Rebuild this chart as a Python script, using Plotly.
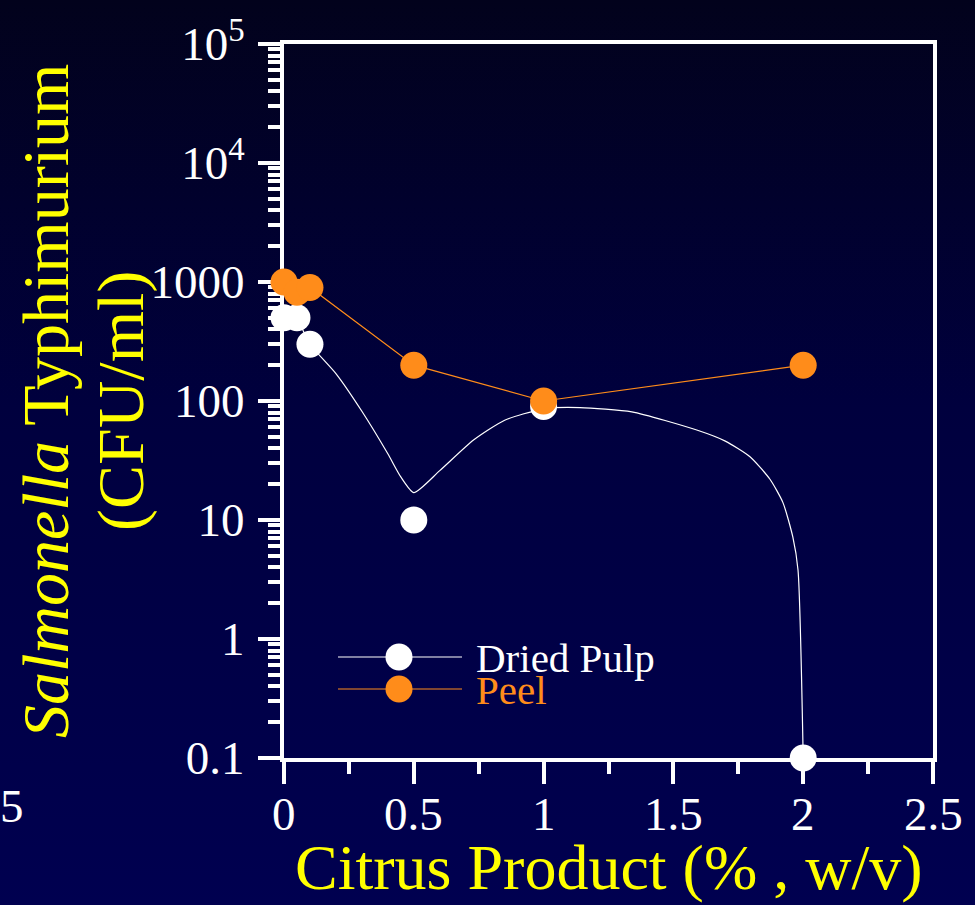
import base64
import plotly.graph_objects as go

# ---- data ----
pulp_x = [0, 0.05, 0.1, 0.5, 1, 2]
pulp_y = [500, 500, 300, 10, 90, 0.1]

peel_x = [0, 0.05, 0.1, 0.5, 1, 2]
peel_y = [1000, 820, 900, 200, 100, 200]

# smoothed curve drawn through the dried-pulp data
pulp_fit_x = [0, 0.05, 0.1, 0.2, 0.3, 0.4, 0.45, 0.5, 0.6, 0.73, 0.85, 1.0, 1.14, 1.34, 1.59, 1.70, 1.795, 1.872, 1.922, 1.96, 1.98, 2.0]
pulp_fit_y = [500, 480, 300, 170, 82, 36, 23, 17, 26, 47, 69, 86, 88, 81, 57, 46, 34, 22, 14, 7.2, 3.8, 0.1]

x_tickvals = [0, 0.5, 1, 1.5, 2, 2.5]
x_ticktext = ["0", "0.5", "1", "1.5", "2", "2.5"]
y_tickvals = [0.1, 1, 10, 100, 1000, 1e4, 1e5]
y_ticktext = ["0.1", "1", "10", "100", "1000", "10<sup>4</sup>", "10<sup>5</sup>"]

series_names = ["Dried Pulp", "Peel"]
x_title = "Citrus Product (% , w/v)"
y_title_lines = ["<i>Salmonella</i> Typhimurium", "(CFU/ml)"]

# ---- styling ----
W, H = 975, 905
L, R, T, B = 284, 42, 44, 147
PW, PH = W - L - R, H - T - B
WHITE = "#FFFFFF"
ORANGE = "#FF8C1A"
YELLOW = "#FFFF00"
FONT = "Liberation Serif, Times New Roman, serif"


def px2paper(px, py):
    return (px - L) / PW, (H - B - py) / PH


svg = (
    "<svg xmlns='http://www.w3.org/2000/svg' width='975' height='905' preserveAspectRatio='none'>"
    "<defs><linearGradient id='g' x1='0' y1='0' x2='0' y2='1'>"
    "<stop offset='0' stop-color='rgb(2,2,28)'/>"
    "<stop offset='0.45' stop-color='rgb(0,0,62)'/>"
    "<stop offset='1' stop-color='rgb(0,0,80)'/>"
    "</linearGradient></defs>"
    "<rect width='975' height='905' fill='url(#g)'/></svg>"
)
bg_src = "data:image/svg+xml;base64," + base64.b64encode(svg.encode()).decode()

fig = go.Figure()

fig.add_trace(go.Scatter(
    x=pulp_fit_x, y=pulp_fit_y, mode="lines",
    line=dict(color=WHITE, width=1.2, shape="spline", smoothing=0.6),
    showlegend=False, hoverinfo="skip",
))
fig.add_trace(go.Scatter(
    x=pulp_x, y=pulp_y, mode="markers", name=series_names[0],
    marker=dict(color=WHITE, size=27, line=dict(width=0)),
    cliponaxis=False, showlegend=False,
))
fig.add_trace(go.Scatter(
    x=peel_x, y=peel_y, mode="lines+markers", name=series_names[1],
    line=dict(color=ORANGE, width=1.2),
    marker=dict(color=ORANGE, size=27, line=dict(width=0)),
    cliponaxis=False, showlegend=False,
))

axis_common = dict(
    showline=True, linewidth=4, linecolor=WHITE, mirror=True,
    ticks="outside", ticklen=22, tickwidth=4, tickcolor=WHITE,
    showgrid=False, zeroline=False, layer="below traces",
    tickfont=dict(family=FONT, size=47, color=WHITE),
)

fig.update_xaxes(
    range=[0, 2.5], tickmode="array", tickvals=x_tickvals, ticktext=x_ticktext,
    showticklabels=False,
    minor=dict(ticks="outside", ticklen=12, tickwidth=4, tickcolor=WHITE, dtick=0.25, tick0=0, showgrid=False),
    **axis_common,
)
fig.update_yaxes(
    type="log", range=[-1, 5], tickmode="array", tickvals=y_tickvals, ticktext=y_ticktext,
    minor=dict(ticks="outside", ticklen=12, tickwidth=4, tickcolor=WHITE, dtick="D1", showgrid=False),
    ticklabelstandoff=4,
    **axis_common,
)

shapes = []
annotations = []

# x tick labels placed through the x axis scale
for v, t in zip(x_tickvals, x_ticktext):
    annotations.append(dict(text=t, xref="x", yref="paper", x=v, y=0, xanchor="center",
                            yanchor="middle", yshift=-(814 - (H - B)), showarrow=False,
                            font=dict(family=FONT, size=47, color=WHITE)))

# legend (drawn by hand to match the long sample lines)
leg_items = [(series_names[0], WHITE, 657), (series_names[1], ORANGE, 689)]
for name, col, py in leg_items:
    x0, y0 = px2paper(338, py)
    x1, _ = px2paper(462, py)
    xm, _ = px2paper(399, py)
    shapes.append(dict(type="line", xref="paper", yref="paper", x0=x0, x1=x1, y0=y0, y1=y0,
                       line=dict(color=col, width=1.2), layer="above"))
    shapes.append(dict(type="circle", xref="paper", yref="paper", xsizemode="pixel", ysizemode="pixel",
                       xanchor=xm, yanchor=y0, x0=-13.5, x1=13.5, y0=-13.5, y1=13.5,
                       fillcolor=col, line=dict(width=0), layer="above"))
    xt, yt = px2paper(474, py + 1)
    annotations.append(dict(text=name, xref="paper", yref="paper", x=xt, y=yt,
                            xanchor="left", yanchor="middle", showarrow=False,
                            font=dict(family=FONT, size=41, color=col)))

# axis titles
annotations.append(dict(text=x_title, xref="paper", yref="paper", x=0.5, y=0, xanchor="center",
                        yanchor="middle", yshift=-(867 - (H - B)), showarrow=False,
                        font=dict(family=FONT, size=64, color=YELLOW)))
for line_text, cx in zip(y_title_lines, [45, 121]):
    annotations.append(dict(text=line_text, xref="paper", yref="paper", x=0, y=0.5, xanchor="center",
                            yanchor="middle", xshift=cx - L, textangle=-90, showarrow=False,
                            font=dict(family=FONT, size=66, color=YELLOW)))
# stray tick label at far left
xs, ys = px2paper(12, 806)
annotations.append(dict(text="5", xref="paper", yref="paper", x=xs, y=ys, xanchor="center",
                        yanchor="middle", showarrow=False,
                        font=dict(family=FONT, size=47, color=WHITE)))

fig.update_layout(
    width=W, height=H,
    margin=dict(l=L, r=R, t=T, b=B),
    paper_bgcolor="rgb(0,0,60)", plot_bgcolor="rgba(0,0,0,0)",
    showlegend=False,
    shapes=shapes, annotations=annotations,
    images=[dict(source=bg_src, xref="paper", yref="paper", x=-L / PW, y=1 + T / PH,
                 sizex=W / PW, sizey=H / PH, xanchor="left", yanchor="top",
                 sizing="stretch", layer="below")],
)

fig.write_html("out.html")
